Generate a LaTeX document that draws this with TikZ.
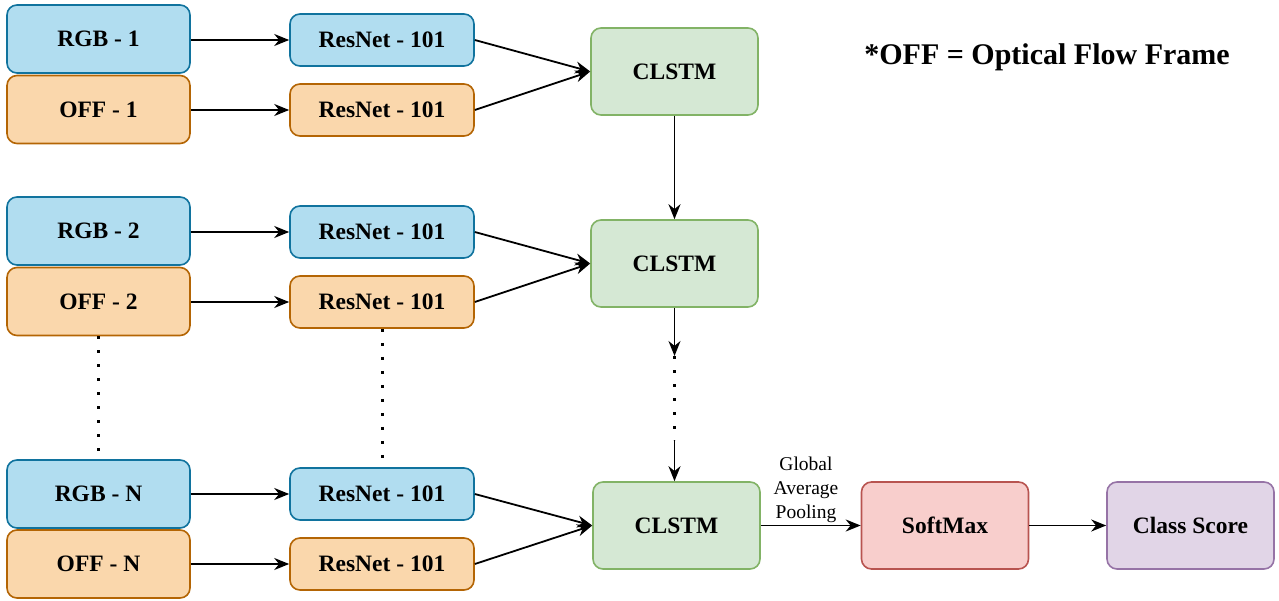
\documentclass[tikz,border=0pt]{standalone}
\usepackage{fontspec}
\setmainfont{Liberation Serif}
\usetikzlibrary{arrows.meta}
\definecolor{bfill}{HTML}{B1DDF0}\definecolor{bdraw}{HTML}{10739E}
\definecolor{ofill}{HTML}{FAD7AC}\definecolor{odraw}{HTML}{B46504}
\definecolor{gfill}{HTML}{D5E8D4}\definecolor{gdraw}{HTML}{82B366}
\definecolor{rfill}{HTML}{F8CECC}\definecolor{rdraw}{HTML}{B85450}
\definecolor{pfill}{HTML}{E1D5E7}\definecolor{pdraw}{HTML}{9673A6}
\tikzset{
  box/.style={rectangle, rounded corners=10pt, line width=1.6pt, inner sep=0pt,
    font=\fontsize{23.5}{28}\selectfont\bfseries},
  inbox/.style={box, minimum width=183pt, minimum height=68pt},
  resbox/.style={box, minimum width=184pt, minimum height=52pt, fill=bfill, draw=bdraw},
  bigbox/.style={box, minimum width=167pt, minimum height=87pt},
  rgbbox/.style={inbox, fill=bfill, draw=bdraw},
  offbox/.style={inbox, fill=ofill, draw=odraw},
  offres/.style={resbox, fill=ofill, draw=odraw},
  lstm/.style={bigbox, fill=gfill, draw=gdraw},
  arr/.style={line width=1.8pt, -{Stealth[length=15pt,width=12pt]}},
  dots/.style={line width=2.8pt, dash pattern=on 2.8pt off 11.2pt},
}
\begin{document}
\begin{tikzpicture}[x=1pt,y=-1pt]
\useasboundingbox (0,0) rectangle (1279,601);
% row 1
\node[rgbbox] (rgb1) at (98.5,39) {RGB - 1};
\node[offbox] (off1) at (98.5,109.5) {OFF - 1};
\node[resbox] (res1a) at (382,40) {ResNet - 101};
\node[offres] (res1b) at (382,110) {ResNet - 101};
\node[lstm] (c1) at (674.5,71.5) {CLSTM};
% row 2
\node[rgbbox] (rgb2) at (98.5,231) {RGB - 2};
\node[offbox] (off2) at (98.5,301.5) {OFF - 2};
\node[resbox] (res2a) at (382,232) {ResNet - 101};
\node[offres] (res2b) at (382,302) {ResNet - 101};
\node[lstm] (c2) at (674.5,263.5) {CLSTM};
% row N
\node[rgbbox] (rgbN) at (98.5,494) {RGB - N};
\node[offbox] (offN) at (98.5,564) {OFF - N};
\node[resbox] (resNa) at (382,494) {ResNet - 101};
\node[offres] (resNb) at (382,564) {ResNet - 101};
\node[lstm] (cN) at (676.5,525.5) {CLSTM};
\node[bigbox, fill=rfill, draw=rdraw] (soft) at (945,525.5) {SoftMax};
\node[bigbox, fill=pfill, draw=pdraw] (cls) at (1190.5,525.5) {Class Score};
\node[font=\fontsize{30}{35}\selectfont\bfseries] (note) at (1047,57) {*OFF = Optical Flow Frame};
% arrows
\foreach \r in {1,2,N}{
  \draw[arr] (rgb\r.east |- res\r a.west) -- (res\r a.west);
  \draw[arr] (off\r.east |- res\r b.west) -- (res\r b.west);
  \draw[arr] (res\r a.east) -- (c\r.west);
  \draw[arr] (res\r b.east) -- (c\r.west);
}
\draw[arr] (c1.south) -- (c2.north);
\coordinate (d1) at (674.5,356);
\coordinate (d2) at (674.5,440);
\draw[arr] (c2.south) -- (d1);
\draw[dots] (d1) -- (d2);
\draw[arr] (d2) -- (d2 |- cN.north);
\draw[dots] (off2.south) -- (rgbN.north);
\draw[dots] ([xshift=0.5pt]res2b.south) -- ([xshift=0.5pt]resNa.north);
\draw[arr] (cN.east) -- (soft.west);
\node[font=\fontsize{19.5}{24}\selectfont, align=center, anchor=south, inner sep=0pt] (gap) at (806,523) {Global\\Average\\Pooling};
\draw[arr] (soft.east) -- (cls.west);
\end{tikzpicture}
\end{document}
